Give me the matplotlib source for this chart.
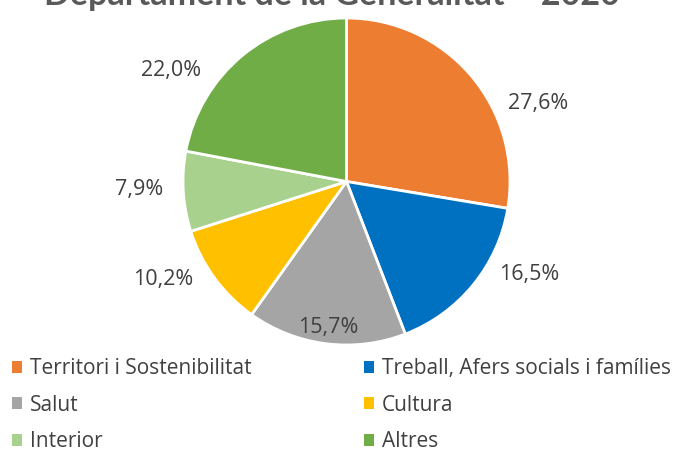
import matplotlib.pyplot as plt
from matplotlib.patches import Patch

# Data
departments = ["Territori i Sostenibilitat", "Treball, Afers socials i famílies",
               "Salut", "Cultura", "Interior", "Altres"]
shares = [27.6, 16.5, 15.7, 10.2, 7.9, 22.0]
colors = ["#ED7D31", "#0070C0", "#A5A5A5", "#FFC000", "#A9D18E", "#70AD47"]
title = "Departament de la Generalitat \u2013 2020"

# label placement (data units, pie radius = 1), like Excel "best fit"
label_pos = [(1.17, 0.48), (1.12, -0.57), (-0.11, -0.89),
             (-1.12, -0.60), (-1.27, -0.05), (-1.07, 0.68)]

plt.rcParams['font.family'] = ['Open Sans', 'DejaVu Sans']

fig = plt.figure(figsize=(6.81, 4.54), dpi=100)
W, H = 681, 454
cx, cy, r = 346.5, 181.5, 163.5
ax = fig.add_axes([(cx - r) / W, (H - cy - r) / H, 2 * r / W, 2 * r / H])

wedges, _ = ax.pie(shares, colors=colors, startangle=90, counterclock=False,
                   radius=1, wedgeprops=dict(edgecolor="white", linewidth=2))
ax.set_xlim(-1, 1)
ax.set_ylim(-1, 1)
ax.axis("off")

for v, (x, y) in zip(shares, label_pos):
    ax.text(x, y, f"{v:.1f}%".replace(".", ","), ha="center", va="center",
            fontsize=15.5, color="#404040")

# title is partly cut by the top edge, as in the original
fig.text(332 / W, 1 - 5 / H, title, ha="center", va="baseline",
         fontsize=24.5, fontweight="bold", color="#595959",
         family=['Lato', 'DejaVu Sans'])

# legend, two columns filled row by row
handles = [Patch(facecolor=c, edgecolor="none") for c in colors]
col1 = [0, 2, 4]
col2 = [1, 3, 5]
for idx, x0 in ((col1, 12 / W), (col2, 364 / W)):
    fig.legend([handles[i] for i in idx], [departments[i] for i in idx],
               loc="upper left", bbox_to_anchor=(x0, 1 - 358 / H),
               frameon=False, fontsize=15, labelcolor="#404040",
               handlelength=0.5, handleheight=0.5, handletextpad=0.35,
               labelspacing=0.75, borderpad=0, borderaxespad=0)

fig.savefig("out.png", dpi=100)
